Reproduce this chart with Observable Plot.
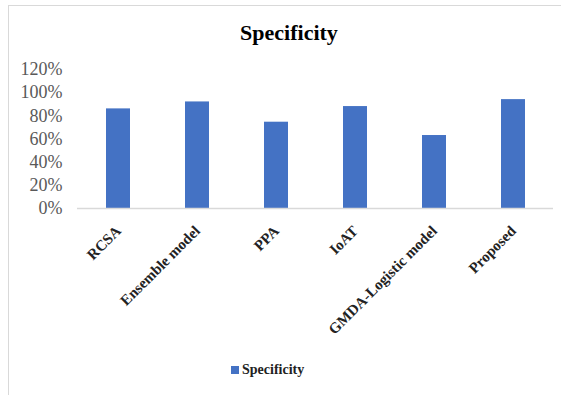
<!DOCTYPE html>
<html>
<head>
<meta charset="utf-8">
<script src="https://cdn.jsdelivr.net/npm/d3@7"></script>
<script src="https://cdn.jsdelivr.net/npm/@observablehq/plot@0.6"></script>
<style>
  html, body { margin: 0; padding: 0; background: #fff; }
  body { width: 561px; height: 395px; position: relative; overflow: hidden; font-family: "Liberation Serif", "Times New Roman", serif; }
  #frame { position: absolute; left: 8px; top: 5px; right: 0; bottom: 0; border-left: 1px solid #d9d9d9; border-top: 1px solid #d9d9d9; }
  #title { position: absolute; left: 0; width: 578px; top: 19px; text-align: center; font-size: 22px; font-weight: bold; line-height: 28px; color: #000; }
  #chart { position: absolute; left: 0; top: 46px; }
  #chart svg, #chart svg text { font-family: "Liberation Serif", "Times New Roman", serif !important; }
  #legend { position: absolute; left: 231px; top: 362px; display: flex; align-items: center; gap: 3px; font-size: 14px; font-weight: bold; color: #222; }
  #legend .swatch { width: 8px; height: 8px; background: #4472c4; }
</style>
</head>
<body>
<div id="frame"></div>
<div id="title">Specificity</div>
<div id="chart"></div>
<div id="legend"><span class="swatch"></span><span>Specificity</span></div>
<script>
const methods = ["RCSA", "Ensemble model", "PPA", "IoAT", "GMDA-Logistic model", "Proposed"];
const specificity = [0.86, 0.92, 0.745, 0.88, 0.63, 0.94];
const yTicks = [0, 0.2, 0.4, 0.6, 0.8, 1.0, 1.2];

const rows = methods.map((m, i) => ({method: m, value: specificity[i]}));
const serif = "'Liberation Serif', 'Times New Roman', serif";

const chart = Plot.plot({
  width: 561,
  height: 300,
  marginTop: 23,
  marginBottom: 138,
  marginLeft: 77,
  marginRight: 8,
  style: {fontFamily: serif, background: "transparent"},
  x: {domain: methods, paddingInner: 0.7, paddingOuter: 0.35, label: null},
  y: {domain: [0, 1.2], label: null},
  marks: [
    Plot.axisY({
      ticks: yTicks,
      tickFormat: d3.format(".0%"),
      tickSize: 0,
      tickPadding: 15,
      fontSize: 18,
      fontFamily: serif,
      fill: "#595959",
      label: null
    }),
    Plot.axisX({
      tickSize: 0,
      tickPadding: 20,
      tickRotate: -45,
      fontSize: 15,
      fontWeight: "bold",
      fontFamily: serif,
      fill: "#222",
      label: null
    }),
    Plot.barY(rows, {x: "method", y: "value", fill: "#4472c4"}),
    Plot.ruleY([0], {stroke: "#d9d9d9", strokeWidth: 1.5})
  ]
});
document.getElementById("chart").appendChild(chart);
</script>
</body>
</html>
